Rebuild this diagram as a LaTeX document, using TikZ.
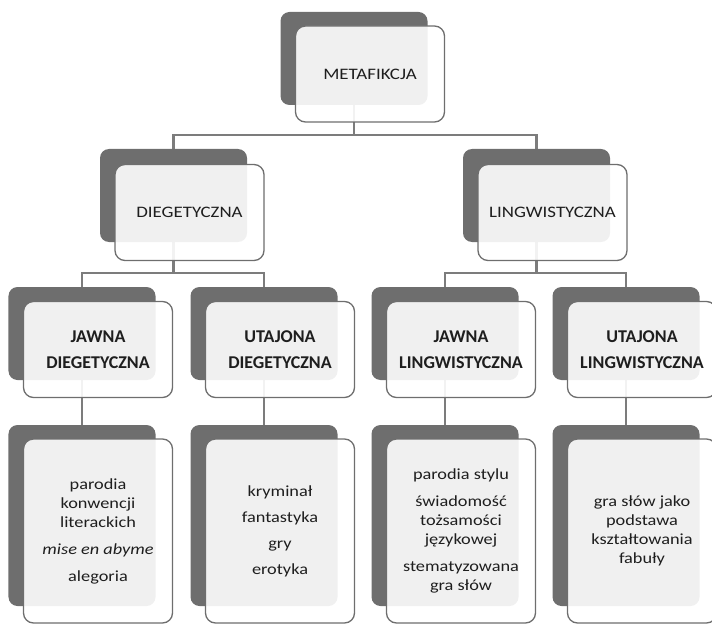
\documentclass[tikz,border=0pt]{standalone}
\usepackage{fontspec}
\setmainfont{Carlito}
\newfontfamily\widefont{Carlito}[FakeStretch=1.18]
\pgfdeclarelayer{bg}
\pgfsetlayers{bg,main}
\definecolor{boxgray}{HTML}{6E6E6E}
\definecolor{linkgray}{HTML}{7C7C7C}
\definecolor{inkgray}{HTML}{1E1E1E}

\begin{document}
\begin{tikzpicture}[x=1bp, y=-1bp,
  back/.style={fill=boxgray, rounded corners=9bp, minimum width=147bp, minimum height=93bp, inner sep=0pt},
  front/.style={draw=boxgray, line width=1.3bp, fill=white, fill opacity=0.9, text opacity=1, rounded corners=10bp, minimum width=149bp, minimum height=96bp, inner sep=0pt, align=center, text=inkgray},
  toplbl/.style={font=\widefont\fontsize{16bp}{19bp}\selectfont},
  midlbl/.style={font=\bfseries\fontsize{18bp}{26bp}\selectfont},
  leaflbl/.style={font=\widefont\fontsize{15.5bp}{19bp}\selectfont},
  link/.style={draw=linkgray, line width=2.2bp}]
\useasboundingbox (0,0) rectangle (712,625);
% poziom 1 i 2
\node[back] (meta) at (354,58.5) {};
\node[front, toplbl] (metaf) at (370,74) {METAFIKCJA};
\node[back] (diag) at (173.5,195.5) {};
\node[front, toplbl] (diagf) at (189.5,212.5) {DIEGETYCZNA};
\node[back] (ling) at (536.5,195.5) {};
\node[front, toplbl] (lingf) at (552.5,212.5) {LINGWISTYCZNA};
% poziom 3
\node[back] (jd) at (82,333.5) {};
\node[front, midlbl] (jdf) at (98,349.5) {JAWNA\\DIEGETYCZNA};
\node[back] (ud) at (264,333.5) {};
\node[front, midlbl] (udf) at (280,349.5) {UTAJONA\\DIEGETYCZNA};
\node[back] (jl) at (445,333.5) {};
\node[front, midlbl] (jlf) at (461,349.5) {JAWNA\\LINGWISTYCZNA};
\node[back] (ul) at (626,333.5) {};
\node[front, midlbl] (ulf) at (642,349.5) {UTAJONA\\LINGWISTYCZNA};
% poziom 4
\node[back, minimum height=181bp] (jdx) at (82,515.5) {};
\node[front, leaflbl, minimum height=184bp] (jdxf) at (98,531) {parodia\\konwencji\\literackich\\[8bp]\textit{mise en abyme}\\[8bp]alegoria};
\node[back, minimum height=181bp] (udx) at (264,515.5) {};
\node[front, leaflbl, minimum height=184bp] (udxf) at (280,531) {kryminał\\[7bp]fantastyka\\[7bp]gry\\[7bp]erotyka};
\node[back, minimum height=181bp] (jlx) at (445,515.5) {};
\node[front, leaflbl, minimum height=184bp] (jlxf) at (461,531) {parodia stylu\\[8bp]świadomość\\tożsamości\\językowej\\[8bp]stematyzowana\\gra słów};
\node[back, minimum height=181bp] (ulx) at (626,515.5) {};
\node[front, leaflbl, minimum height=184bp] (ulxf) at (642,531) {gra słów jako\\podstawa\\kształtowania\\fabuły};
\coordinate (bus1) at (354,135);
\coordinate (bus2) at (173.5,273);
\coordinate (bus3) at (536.5,273);
\begin{pgfonlayer}{bg}
\draw[link] (meta) -- (bus1);
\draw[link] (diag) |- (bus1) -| (ling);
\draw[link] (diag) -- (bus2);
\draw[link] (jd) |- (bus2) -| (ud);
\draw[link] (ling) -- (bus3);
\draw[link] (jl) |- (bus3) -| (ul);
\draw[link] (jd) -- (jdx);
\draw[link] (ud) -- (udx);
\draw[link] (jl) -- (jlx);
\draw[link] (ul) -- (ulx);
\end{pgfonlayer}
\end{tikzpicture}
\end{document}
